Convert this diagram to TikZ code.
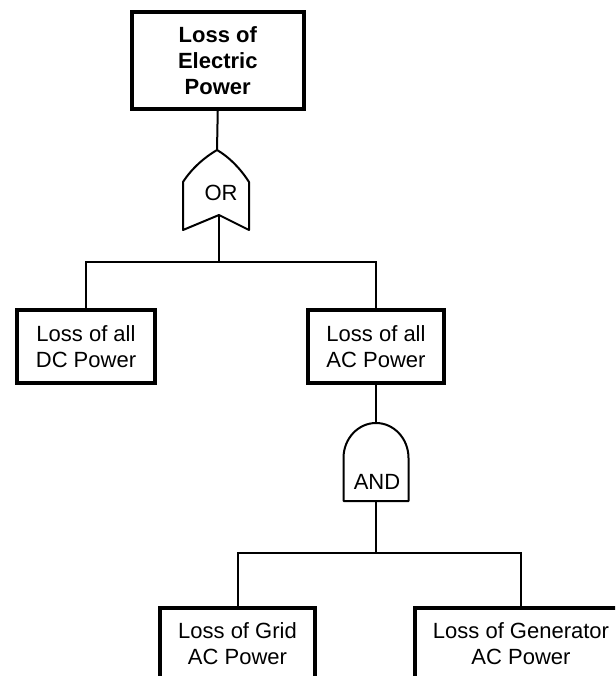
\documentclass[tikz,border=0pt]{standalone}
\usepackage{fontspec}
\setmainfont{Liberation Sans}
\begin{document}
\begin{tikzpicture}[x=1pt,y=-1pt,
  event/.style={draw, line width=4pt, inner sep=0pt, align=center,
    font=\fontsize{22}{26}\selectfont},
  wire/.style={line width=2pt},
  gate/.style={line width=2pt, line join=round},
  gatelabel/.style={font=\fontsize{22}{26}\selectfont, inner sep=0pt}]
\useasboundingbox (0,0) rectangle (615,676);
\clip (0,0) rectangle (615,676);
\fill[white] (0,0) rectangle (615,676);

% events
\node[event, font=\fontsize{22}{26}\selectfont\bfseries,
      minimum width=171.5pt, minimum height=97pt] (top) at (217.75,60.5)
      {Loss of\\Electric\\Power};
\node[event, minimum width=138pt, minimum height=73pt] (dc) at (86,346.5)
      {Loss of all\\DC Power};
\node[event, minimum width=136pt, minimum height=73pt] (ac) at (376,346.5)
      {Loss of all\\AC Power};
\node[event, minimum width=155pt, minimum height=73pt] (grid) at (237.5,644)
      {Loss of Grid\\AC Power};
\node[event, minimum width=212pt, minimum height=73pt] (gen) at (521,644)
      {Loss of Generator\\AC Power};

% OR gate
\coordinate (orTop) at (217,150);
\coordinate (orBot) at (219,215);
\draw[gate] (orTop) .. controls (205,157) and (192,168) .. (183,182)
  -- (183,230) -- (orBot) -- (249,230) -- (249,182)
  .. controls (240,168) and (229,157) .. (orTop) -- cycle;
\node[gatelabel] (orlabel) at (221,193) {OR};

% AND gate
\coordinate (andTop) at (376,423);
\coordinate (andBot) at (376,501);
\draw[gate] (343.5,501) -- (343.5,458) arc[start angle=180, end angle=0,
  x radius=32.5, y radius=-35] -- (408.5,501) -- cycle;
\node[gatelabel] (andlabel) at (377,482) {AND};

% junctions
\coordinate (j1) at (219,262);
\coordinate (j2) at (376,553);

% connectors
\draw[wire] (top.south) -- (orTop);
\draw[wire] (orBot) -- (j1);
\draw[wire] (dc.north) |- (j1) -| (ac.north);
\draw[wire] (ac.south) -- (andTop);
\draw[wire] (andBot) -- (j2);
\draw[wire] (grid.north) |- (j2) -| (gen.north);
\end{tikzpicture}
\end{document}
